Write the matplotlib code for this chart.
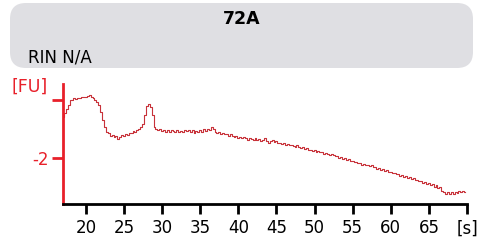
import numpy as np
import matplotlib
matplotlib.use("Agg")
import matplotlib.pyplot as plt
from matplotlib.patches import FancyBboxPatch

# Data
sample_name = "72A"
rin_text = "RIN N/A"
time_start, time_step = 17.0, 0.25
fu_values = [
    -1.29, -1.22, -1.15, -1.08, -1.00, -0.99, -0.97, -0.98, -0.96, -0.97,
    -0.95, -0.94, -0.95, -0.92, -0.91, -0.94, -0.96, -0.99, -1.03, -1.08,
    -1.20, -1.34, -1.47, -1.55, -1.57, -1.61, -1.60, -1.64, -1.62, -1.67,
    -1.63, -1.60, -1.62, -1.58, -1.60, -1.56, -1.57, -1.53, -1.55, -1.51,
    -1.50, -1.47, -1.41, -1.25, -1.10, -1.07, -1.12, -1.25, -1.47, -1.50,
    -1.52, -1.50, -1.53, -1.51, -1.55, -1.52, -1.54, -1.51, -1.53, -1.55,
    -1.52, -1.54, -1.53, -1.55, -1.52, -1.53, -1.51, -1.54, -1.52, -1.56,
    -1.53, -1.55, -1.52, -1.54, -1.50, -1.53, -1.49, -1.51, -1.46, -1.50,
    -1.55, -1.57, -1.54, -1.58, -1.57, -1.59, -1.58, -1.61, -1.59, -1.62,
    -1.63, -1.61, -1.65, -1.63, -1.66, -1.64, -1.66, -1.68, -1.65, -1.67,
    -1.68, -1.66, -1.69, -1.67, -1.70, -1.68, -1.66, -1.71, -1.73, -1.70,
    -1.69, -1.72, -1.71, -1.74, -1.73, -1.75, -1.74, -1.77, -1.76, -1.78,
    -1.77, -1.79, -1.80, -1.78, -1.81, -1.83, -1.80, -1.84, -1.83, -1.86,
    -1.85, -1.87, -1.86, -1.89, -1.88, -1.90, -1.89, -1.92, -1.91, -1.93,
    -1.94, -1.92, -1.95, -1.97, -1.96, -1.99, -1.98, -2.01, -2.00, -2.03,
    -2.02, -2.05, -2.04, -2.07, -2.06, -2.09, -2.08, -2.11, -2.10, -2.12,
    -2.11, -2.14, -2.12, -2.16, -2.15, -2.18, -2.17, -2.20, -2.19, -2.22,
    -2.21, -2.24, -2.23, -2.26, -2.25, -2.28, -2.27, -2.30, -2.29, -2.32,
    -2.31, -2.34, -2.33, -2.36, -2.35, -2.38, -2.37, -2.40, -2.39, -2.42,
    -2.41, -2.44, -2.43, -2.46, -2.45, -2.49, -2.47, -2.52, -2.50, -2.56,
    -2.59, -2.61, -2.58, -2.61, -2.59, -2.62, -2.58, -2.60, -2.57, -2.59,
    -2.57, -2.58,
]
x_ticks = [20, 25, 30, 35, 40, 45, 50, 55, 60, 65, 70]
x_labels = ["20", "25", "30", "35", "40", "45", "50", "55", "60", "65", "[s]"]
y_ticks = [-2, -1]
y_labels = ["-2", ""]

times = time_start + time_step * np.arange(len(fu_values))

red = "#e8202a"
fig = plt.figure(figsize=(4.78, 2.46), dpi=100)

# header box
hdr = fig.add_axes([0, 0, 1, 1], zorder=0)
hdr.set_xlim(0, 478)
hdr.set_ylim(246, 0)
hdr.axis("off")
box = FancyBboxPatch((10, 3), 463, 65, boxstyle="round,pad=0,rounding_size=16",
                     facecolor="#dfdfe3", edgecolor="none")
hdr.add_patch(box)
hdr.text(242, 19, sample_name, ha="center", va="center", fontsize=12.5,
         fontweight="bold", color="black")
hdr.text(28, 58, rin_text, ha="left", va="center", fontsize=12, color="black")
hdr.text(48, 87, "[FU]", ha="right", va="center", fontsize=12.5, color=red)

ax = fig.add_axes([63 / 478, 1 - 204 / 246, 404 / 478, 120 / 246], zorder=1)
ax.patch.set_alpha(0)
ax.plot(times, fu_values, drawstyle="steps-mid", color="#c8323a", lw=0.8)
ax.set_xlim(17.0, 70.0)
ax.set_ylim(-2.79, -0.72)

ax.spines["top"].set_visible(False)
ax.spines["right"].set_visible(False)
ax.spines["bottom"].set_linewidth(2)
ax.spines["bottom"].set_color("black")
ax.spines["left"].set_linewidth(2)
ax.spines["left"].set_color(red)

ax.set_xticks(x_ticks)
ax.set_xticklabels(x_labels)
ax.set_yticks(y_ticks)
ax.set_yticklabels(y_labels)
ax.tick_params(axis="x", length=7, width=2, color="black", labelsize=12,
               labelcolor="black", pad=4)
ax.tick_params(axis="y", length=8, width=2, color=red, labelsize=12,
               labelcolor=red, pad=2)

fig.savefig("out.png", dpi=100)
